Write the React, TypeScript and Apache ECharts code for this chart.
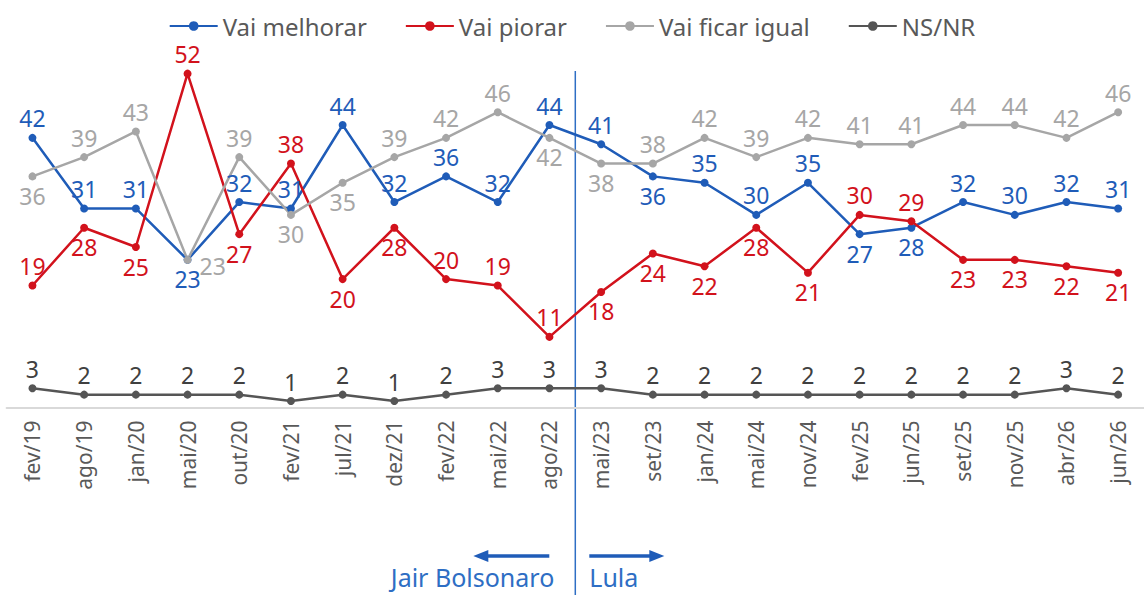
import React, { useEffect, useRef } from "react";
import * as echarts from "echarts";

// Survey waves
const categories = [
  "fev/19", "ago/19", "jan/20", "mai/20", "out/20", "fev/21", "jul/21", "dez/21",
  "fev/22", "mai/22", "ago/22", "mai/23", "set/23", "jan/24", "mai/24", "nov/24",
  "fev/25", "jun/25", "set/25", "nov/25", "abr/26", "jun/26",
];

// Expectation shares (%)
const vaiMelhorar = [42, 31, 31, 23, 32, 31, 44, 32, 36, 32, 44, 41, 36, 35, 30, 35, 27, 28, 32, 30, 32, 31];
const vaiPiorar = [19, 28, 25, 52, 27, 38, 20, 28, 20, 19, 11, 18, 24, 22, 28, 21, 30, 29, 23, 23, 22, 21];
const vaiFicarIgual = [36, 39, 43, 23, 39, 30, 35, 39, 42, 46, 42, 38, 38, 42, 39, 42, 41, 41, 44, 44, 42, 46];
const nsNr = [3, 2, 2, 2, 2, 1, 2, 1, 2, 3, 3, 3, 2, 2, 2, 2, 2, 2, 2, 2, 3, 2];

// Index of the last wave of the first government period
const lastBolsonaroWave = 10;

// Points whose value label sits under the marker
const melhorarBelow = [3, 12, 16, 17];
const piorarBelow = [1, 2, 4, 6, 7, 11, 12, 13, 14, 15, 18, 19, 20, 21];
const igualBelow = [0, 5, 6, 10, 11];
const igualRight = [3];

const BLUE = "#1f5cb8";
const RED = "#d2121c";
const GRAY = "#a6a6a6";
const DARK = "#555555";
const FONT = "'Noto Sans', sans-serif";

function withLabels(values: number[], below: number[], right: number[] = []) {
  return values.map((v, i) => {
    if (right.includes(i)) {
      return { value: v, label: { position: "right", offset: [4, 6] } };
    }
    return { value: v, label: { position: below.includes(i) ? "bottom" : "top" } };
  });
}

function lineSeries(name: string, color: string, labelColor: string, data: any[]) {
  return {
    name,
    type: "line",
    data,
    symbol: "circle",
    symbolSize: 8,
    lineStyle: { color, width: 2.5 },
    itemStyle: { color },
    label: {
      show: true,
      color: labelColor,
      fontSize: 23,
      fontFamily: FONT,
      distance: 4,
    },
    emphasis: { disabled: true },
  };
}

export default function App() {
  const ref = useRef<HTMLDivElement>(null);

  useEffect(() => {
    if (!ref.current) return;
    const chart = echarts.init(ref.current, null, { renderer: "svg" });

    chart.setOption({
      animation: false,
      textStyle: { fontFamily: FONT },
      legend: {
        top: 9,
        left: "center",
        itemWidth: 48,
        itemHeight: 12,
        itemGap: 38,
        textStyle: { fontSize: 24, color: "#595959", fontFamily: FONT },
        data: ["Vai melhorar", "Vai piorar", "Vai ficar igual", "NS/NR"],
      },
      grid: { left: 6.6, right: -5.5, top: 54.4, bottom: 187.5 },
      xAxis: {
        type: "category",
        data: categories,
        boundaryGap: true,
        axisLine: { show: true, lineStyle: { color: "#d9d9d9", width: 2 } },
        axisTick: { show: false },
        axisLabel: {
          rotate: 90,
          margin: 13,
          fontSize: 21,
          color: "#595959",
          fontFamily: FONT,
          interval: 0,
        },
      },
      yAxis: {
        type: "value",
        min: 0,
        max: 55,
        show: false,
        splitLine: { show: false },
      },
      series: [
        lineSeries("Vai melhorar", BLUE, BLUE, withLabels(vaiMelhorar, melhorarBelow)),
        lineSeries("Vai piorar", RED, RED, withLabels(vaiPiorar, piorarBelow)),
        lineSeries("Vai ficar igual", GRAY, GRAY, withLabels(vaiFicarIgual, igualBelow, igualRight)),
        lineSeries("NS/NR", DARK, "#404040", withLabels(nsNr, [])),
      ],
    });

    // Divider between government periods, with arrows and names
    const x0 = chart.convertToPixel({ xAxisIndex: 0 }, lastBolsonaroWave) as number;
    const x1 = chart.convertToPixel({ xAxisIndex: 0 }, lastBolsonaroWave + 1) as number;
    const xd = (x0 + x1) / 2;
    const arrowY = 556;
    chart.setOption({
      graphic: [
        {
          type: "line",
          shape: { x1: xd, y1: 71, x2: xd, y2: 595 },
          style: { stroke: "#2e6ec4", lineWidth: 1.5 },
          silent: true,
        },
        {
          type: "line",
          shape: { x1: xd - 26, y1: arrowY, x2: xd - 88, y2: arrowY },
          style: { stroke: BLUE, lineWidth: 3.5 },
        },
        {
          type: "polygon",
          shape: { points: [[xd - 102, arrowY], [xd - 87, arrowY - 6], [xd - 87, arrowY + 6]] },
          style: { fill: BLUE },
        },
        {
          type: "line",
          shape: { x1: xd + 14, y1: arrowY, x2: xd + 76, y2: arrowY },
          style: { stroke: BLUE, lineWidth: 3.5 },
        },
        {
          type: "polygon",
          shape: { points: [[xd + 89, arrowY], [xd + 74, arrowY - 6], [xd + 74, arrowY + 6]] },
          style: { fill: BLUE },
        },
        {
          type: "text",
          x: xd - 21,
          y: 577,
          style: {
            text: "Jair Bolsonaro",
            fill: "#2e6ec4",
            fontSize: 25,
            fontFamily: FONT,
            align: "right",
            verticalAlign: "middle",
          },
        },
        {
          type: "text",
          x: xd + 14,
          y: 577,
          style: {
            text: "Lula",
            fill: "#2e6ec4",
            fontSize: 25,
            fontFamily: FONT,
            align: "left",
            verticalAlign: "middle",
          },
        },
      ],
    });

    return () => chart.dispose();
  }, []);

  return (
    <div
      ref={ref}
      style={{ position: "absolute", left: 0, top: 0, width: 1144, height: 595, background: "#fff" }}
    />
  );
}
